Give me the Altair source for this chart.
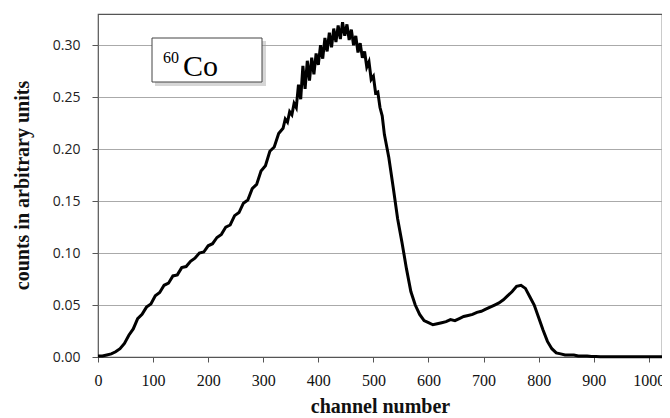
import altair as alt
import pandas as pd

# channel numbers
ch_a = list(range(0, 337, 8))
ch_b = list(range(340, 521, 4))
ch_c = list(range(528, 1025, 8))

counts_a = [0.001, 0.001, 0.002, 0.003, 0.005, 0.008, 0.013, 0.021, 0.027, 0.037,
            0.041, 0.048, 0.051, 0.059, 0.062, 0.069, 0.071, 0.078, 0.079, 0.086,
            0.087, 0.092, 0.095, 0.100, 0.101, 0.107, 0.109, 0.115, 0.118, 0.125,
            0.127, 0.136, 0.139, 0.148, 0.151, 0.162, 0.166, 0.179, 0.184, 0.198,
            0.202, 0.215, 0.220]
counts_b = [0.229, 0.226, 0.236, 0.233, 0.244, 0.240, 0.262, 0.248, 0.280, 0.258,
            0.285, 0.266, 0.288, 0.272, 0.292, 0.281, 0.300, 0.287, 0.307, 0.294,
            0.312, 0.298, 0.316, 0.303, 0.319, 0.306, 0.322, 0.309, 0.320, 0.305,
            0.315, 0.300, 0.309, 0.293, 0.302, 0.288, 0.294, 0.279, 0.284, 0.267,
            0.270, 0.254, 0.255, 0.240, 0.232, 0.214]
counts_c = [0.192, 0.163, 0.133, 0.110, 0.085, 0.063, 0.050, 0.041, 0.035, 0.033,
            0.031, 0.032, 0.033, 0.034, 0.036, 0.035, 0.037, 0.039, 0.040, 0.041,
            0.043, 0.044, 0.046, 0.048, 0.050, 0.052, 0.055, 0.059, 0.063, 0.068,
            0.069, 0.066, 0.058, 0.050, 0.038, 0.026, 0.015, 0.008, 0.004, 0.003,
            0.002, 0.002, 0.002, 0.001, 0.001, 0.001, 0.0005, 0.0004, 0.0003, 0.0003,
            0.0003, 0.0002, 0.0002, 0.0002, 0.0002, 0.0002, 0.0002, 0.0002, 0.0002,
            0.0002, 0.0002, 0.0002, 0.0002]

x_ticks = [0, 100, 200, 300, 400, 500, 600, 700, 800, 900, 1000]
y_ticks = [0.0, 0.05, 0.10, 0.15, 0.20, 0.25, 0.30]

df = pd.DataFrame({"channel": ch_a + ch_b + ch_c,
                   "counts": counts_a + counts_b + counts_c})

line = alt.Chart(df).mark_line(color="black", strokeWidth=3).encode(
    x=alt.X("channel:Q", scale=alt.Scale(domain=[0, 1024], nice=False),
            axis=alt.Axis(values=x_ticks, format="d", title="channel number", grid=False,
                          labelFont="Liberation Serif", labelFontSize=16,
                          labelColor="#111", labelFlush=False, labelPadding=10,
                          labelOverlap=False,
                          tickSize=5, tickColor="#555", domainColor="#555",
                          titleFont="Liberation Serif", titleFontSize=20,
                          titleFontWeight="bold", titleColor="#111",
                          titleY=49, titleBaseline="middle")),
    y=alt.Y("counts:Q", scale=alt.Scale(domain=[0, 0.33], nice=False),
            axis=alt.Axis(values=y_ticks, format=".2f", title="counts in arbitrary units",
                          grid=True, gridColor="#aaa", gridWidth=1.2, domain=False,
                          labelFont="Open Sans", labelFontSize=14, labelColor="#222",
                          labelPadding=12, tickSize=6, tickColor="#555",
                          titleFont="Liberation Serif", titleFontSize=20,
                          titleFontWeight="bold", titleColor="#111",
                          titleX=-76, titleY=171, titleAngle=-90,
                          titleAlign="center", titleBaseline="middle")),
)

one = pd.DataFrame({"k": [0]})
shadow = alt.Chart(one).mark_rect(fill="#999", opacity=0.4).encode(
    x=alt.value(57), x2=alt.value(168), y=alt.value(27), y2=alt.value(72))
box = alt.Chart(one).mark_rect(fill="white", stroke="#444", strokeWidth=1).encode(
    x=alt.value(54), x2=alt.value(164), y=alt.value(24), y2=alt.value(68))
sup = alt.Chart(one).mark_text(text="60", font="Liberation Serif", fontSize=16,
                               align="left", baseline="alphabetic", color="black").encode(
    x=alt.value(65), y=alt.value(49))
co = alt.Chart(one).mark_text(text="Co", font="Liberation Serif", fontSize=30,
                              align="left", baseline="alphabetic", color="black").encode(
    x=alt.value(85), y=alt.value(62))

chart = alt.layer(line, shadow, box, sup, co).properties(
    width=564, height=343, autosize="none",
    padding={"left": 90, "top": 6, "right": 0, "bottom": 62},
).configure_view(stroke="#555", strokeWidth=1.2)

chart.save("out.html", embed_options={"renderer": "svg", "actions": False})
